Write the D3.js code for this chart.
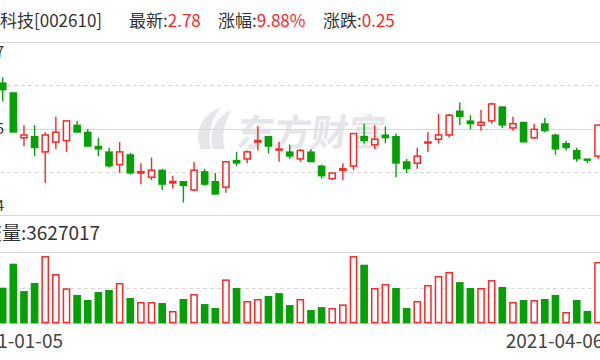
<!DOCTYPE html>
<html>
<head>
<meta charset="utf-8">
<script src="https://cdn.jsdelivr.net/npm/d3@7"></script>
<style>
  html, body { margin: 0; padding: 0; background: #fff; }
  svg { display: block; font-family: "Noto Sans CJK SC", "Noto Sans", sans-serif; }
</style>
</head>
<body>
<svg id="chart" width="600" height="360"></svg>
<script>
// trading days shown by the original chart (first three fall off the left edge)
const dates = [
  "2021-01-05","2021-01-06","2021-01-07","2021-01-08","2021-01-11","2021-01-12","2021-01-13","2021-01-14","2021-01-15",
  "2021-01-18","2021-01-19","2021-01-20","2021-01-21","2021-01-22","2021-01-25","2021-01-26","2021-01-27","2021-01-28","2021-01-29",
  "2021-02-01","2021-02-02","2021-02-03","2021-02-04","2021-02-05","2021-02-08","2021-02-09","2021-02-10",
  "2021-02-18","2021-02-19","2021-02-22","2021-02-23","2021-02-24","2021-02-25","2021-02-26",
  "2021-03-01","2021-03-02","2021-03-03","2021-03-04","2021-03-05","2021-03-08","2021-03-09","2021-03-10","2021-03-11","2021-03-12",
  "2021-03-15","2021-03-16","2021-03-17","2021-03-18","2021-03-19","2021-03-22","2021-03-23","2021-03-24","2021-03-25","2021-03-26",
  "2021-03-29","2021-03-30","2021-03-31","2021-04-01","2021-04-02","2021-04-06"
];
const candleDates = dates.slice(3);

const open = [3.08,3.01,2.69,2.70,2.59,2.66,2.67,2.78,2.73,2.63,
  2.59,2.50,2.57,2.44,2.41,2.46,2.37,2.38,2.32,2.45,
  2.38,2.34,2.53,2.54,2.66,2.70,2.61,2.59,2.54,2.59,
  2.49,2.40,2.46,2.49,2.70,2.64,2.71,2.70,2.52,2.51,
  2.66,2.68,2.71,2.88,2.81,2.78,2.81,2.91,2.76,2.80,
  2.69,2.79,2.71,2.65,2.60,2.54,2.56];
const high = [3.12,3.01,2.78,2.78,2.73,2.84,2.81,2.81,2.75,2.69,
  2.62,2.66,2.58,2.51,2.55,2.47,2.42,2.38,2.52,2.47,
  2.44,2.52,2.59,2.60,2.77,2.70,2.66,2.64,2.61,2.61,
  2.50,2.44,2.51,2.72,2.79,2.78,2.77,2.72,2.54,2.62,
  2.73,2.86,2.86,2.94,2.85,2.89,2.94,2.91,2.84,2.80,
  2.79,2.83,2.72,2.67,2.62,2.54,2.78];
const low = [2.95,2.73,2.63,2.56,2.37,2.61,2.59,2.73,2.63,2.56,
  2.48,2.44,2.43,2.36,2.39,2.32,2.33,2.23,2.31,2.35,
  2.29,2.30,2.49,2.51,2.60,2.58,2.52,2.54,2.52,2.52,
  2.40,2.39,2.39,2.46,2.65,2.61,2.65,2.41,2.44,2.47,
  2.59,2.65,2.69,2.78,2.75,2.74,2.79,2.76,2.74,2.66,
  2.68,2.73,2.57,2.60,2.52,2.51,2.54];
const close = [3.03,2.73,2.71,2.62,2.71,2.73,2.81,2.73,2.63,2.61,
  2.49,2.59,2.44,2.45,2.46,2.36,2.38,2.35,2.46,2.36,
  2.29,2.52,2.51,2.59,2.67,2.63,2.61,2.56,2.60,2.52,
  2.42,2.44,2.47,2.72,2.67,2.68,2.69,2.51,2.47,2.56,
  2.66,2.71,2.85,2.84,2.79,2.80,2.93,2.78,2.79,2.66,
  2.75,2.74,2.61,2.62,2.54,2.53,2.78];
// volume in 10k shares
const volume = [211,353,191,239,398,292,207,168,138,185,
  197,239,150,126,126,120,73,144,173,114,
  91,260,209,132,144,162,179,108,144,79,
  96,91,112,398,347,209,233,209,91,132,
  227,280,304,244,209,209,256,215,126,138,
  138,144,168,67,138,73,363];

const priceTicks = [3.37, 2.755, 2.14];
const priceTickLabels = ["3.37", "2.75", "2.14"];
const dateLabels = ["2021-01-05", "2021-04-06"];

const stockName = "爱康科技";
const stockCode = "002610";
const latest = "2.78";
const changePct = "9.88%";
const change = "0.25";
const latestVolume = "3627017";

const RED = "#f22a2a";
const GREEN = "#05a005";
const GRID = "#d8d8d8";
const TEXT = "#333";

const svg = d3.select("#chart");

const x = d3.scaleBand()
    .domain(dates)
    .range([-34.5, 603.3])
    .paddingInner(0.28)
    .paddingOuter(0.14);

const y = d3.scaleLinear().domain([2.14, 3.37]).range([215.3, 42]);
const yv = d3.scaleLinear().domain([0, 424]).range([323.3, 251.7]);

const candles = candleDates.map((d, i) => ({
    date: d,
    o: open[i], h: high[i], l: low[i], c: close[i], v: volume[i],
    prev: i ? close[i - 1] : open[i]
}));

// header: one text per group, value in red
const header = svg.append("g").attr("font-size", 17).attr("fill", TEXT);
header.append("text").attr("x", -34).attr("y", 27)
    .text(stockName + "[" + stockCode + "]");
[
    { label: "最新:", value: latest, x: 129 },
    { label: "涨幅:", value: changePct, x: 218 },
    { label: "涨跌:", value: change, x: 323 }
].forEach(s => {
    const t = header.append("text").attr("x", s.x).attr("y", 27);
    t.append("tspan").text(s.label);
    t.append("tspan").attr("fill", RED).text(s.value);
});

// watermark
const wm = svg.append("g").attr("fill", "#e5e5ea");
wm.append("path").attr("d", "M201,149 C193,131 203,114 221,107 C211,120 207,134 211,149 Z");
wm.append("path").attr("d", "M213,149 C208,133 215,118 231,110 C224,124 221,137 225,149 Z");
wm.append("text")
    .attr("x", 236).attr("y", 146)
    .attr("font-size", 37).attr("font-weight", "bold")
    .attr("transform", "skewX(-8) translate(20,0)")
    .text("东方财富");

// price grid
const span = y.domain()[1] - y.domain()[0];
const gridVals = d3.range(5).map(k => y.domain()[0] + k * span / 4);
svg.append("g").selectAll("line")
    .data(gridVals)
    .join("line")
    .attr("x1", 0).attr("x2", 600)
    .attr("y1", d => Math.round(y(d)) + 0.5)
    .attr("y2", d => Math.round(y(d)) + 0.5)
    .attr("stroke", GRID)
    .attr("stroke-width", 1.2)
    .attr("stroke-dasharray", (d, k) => k % 2 ? "4,3" : null);

// price labels (cut off at left edge)
svg.append("g").attr("font-size", 15).attr("fill", TEXT)
    .selectAll("text")
    .data(priceTicks)
    .join("text")
    .attr("x", 4)
    .attr("text-anchor", "end")
    .attr("y", (d, k) => k === 0 ? y(d) + 15 : k === 1 ? y(d) + 5.5 : y(d) - 4)
    .text((d, k) => priceTickLabels[k]);

// candles
const cx = d => x(d.date) + x.bandwidth() / 2;
const g = svg.append("g");
g.selectAll("line.wick")
    .data(candles)
    .join("line")
    .attr("class", "wick")
    .attr("x1", cx).attr("x2", cx)
    .attr("y1", d => y(d.h)).attr("y2", d => y(d.l))
    .attr("stroke", d => d.c >= d.o ? RED : GREEN)
    .attr("stroke-width", 1.4);

g.selectAll("rect.body")
    .data(candles)
    .join("rect")
    .attr("class", "body")
    .each(function (d) {
        const up = d.c >= d.o;
        const top = y(Math.max(d.o, d.c));
        const h = Math.max(1, Math.abs(y(d.o) - y(d.c)));
        const sel = d3.select(this);
        if (up) {
            sel.attr("x", x(d.date) + 0.75).attr("width", x.bandwidth() - 1.5)
                .attr("y", top).attr("height", h)
                .attr("fill", "#fff").attr("stroke", RED).attr("stroke-width", 1.5);
        } else {
            sel.attr("x", x(d.date)).attr("width", x.bandwidth())
                .attr("y", top - 0.5).attr("height", h + 1)
                .attr("fill", GREEN);
        }
    });

// volume panel
svg.append("text")
    .attr("x", -36).attr("y", 240)
    .attr("font-size", 19).attr("fill", TEXT)
    .text("成交量:" + latestVolume);

svg.append("g").selectAll("line")
    .data([0, 212, 424])
    .join("line")
    .attr("x1", 0).attr("x2", 600)
    .attr("y1", d => Math.round(yv(d)) + 0.5)
    .attr("y2", d => Math.round(yv(d)) + 0.5)
    .attr("stroke", GRID)
    .attr("stroke-width", 1.2)
    .attr("stroke-dasharray", d => d === 212 ? "4,3" : null);

svg.append("g").selectAll("rect")
    .data(candles)
    .join("rect")
    .each(function (d) {
        const up = d.c > d.prev || (d.c === d.prev && d.c >= d.o);
        const sel = d3.select(this);
        const top = yv(d.v);
        if (up) {
            sel.attr("x", x(d.date) + 0.75).attr("width", x.bandwidth() - 1.5)
                .attr("y", top + 0.75).attr("height", yv(0) - top - 1.5)
                .attr("fill", "#fff").attr("stroke", RED).attr("stroke-width", 1.5);
        } else {
            sel.attr("x", x(d.date)).attr("width", x.bandwidth())
                .attr("y", top).attr("height", yv(0) - top)
                .attr("fill", GREEN);
        }
    });

// date labels at the two ends of the axis
svg.append("g").attr("font-size", 19).attr("fill", "#444")
    .selectAll("text")
    .data(dateLabels)
    .join("text")
    .attr("x", (d, k) => k === 0 ? x.range()[0] : x.range()[1])
    .attr("text-anchor", (d, k) => k === 0 ? "start" : "end")
    .attr("y", 348)
    .text(d => d);
</script>
</body>
</html>
